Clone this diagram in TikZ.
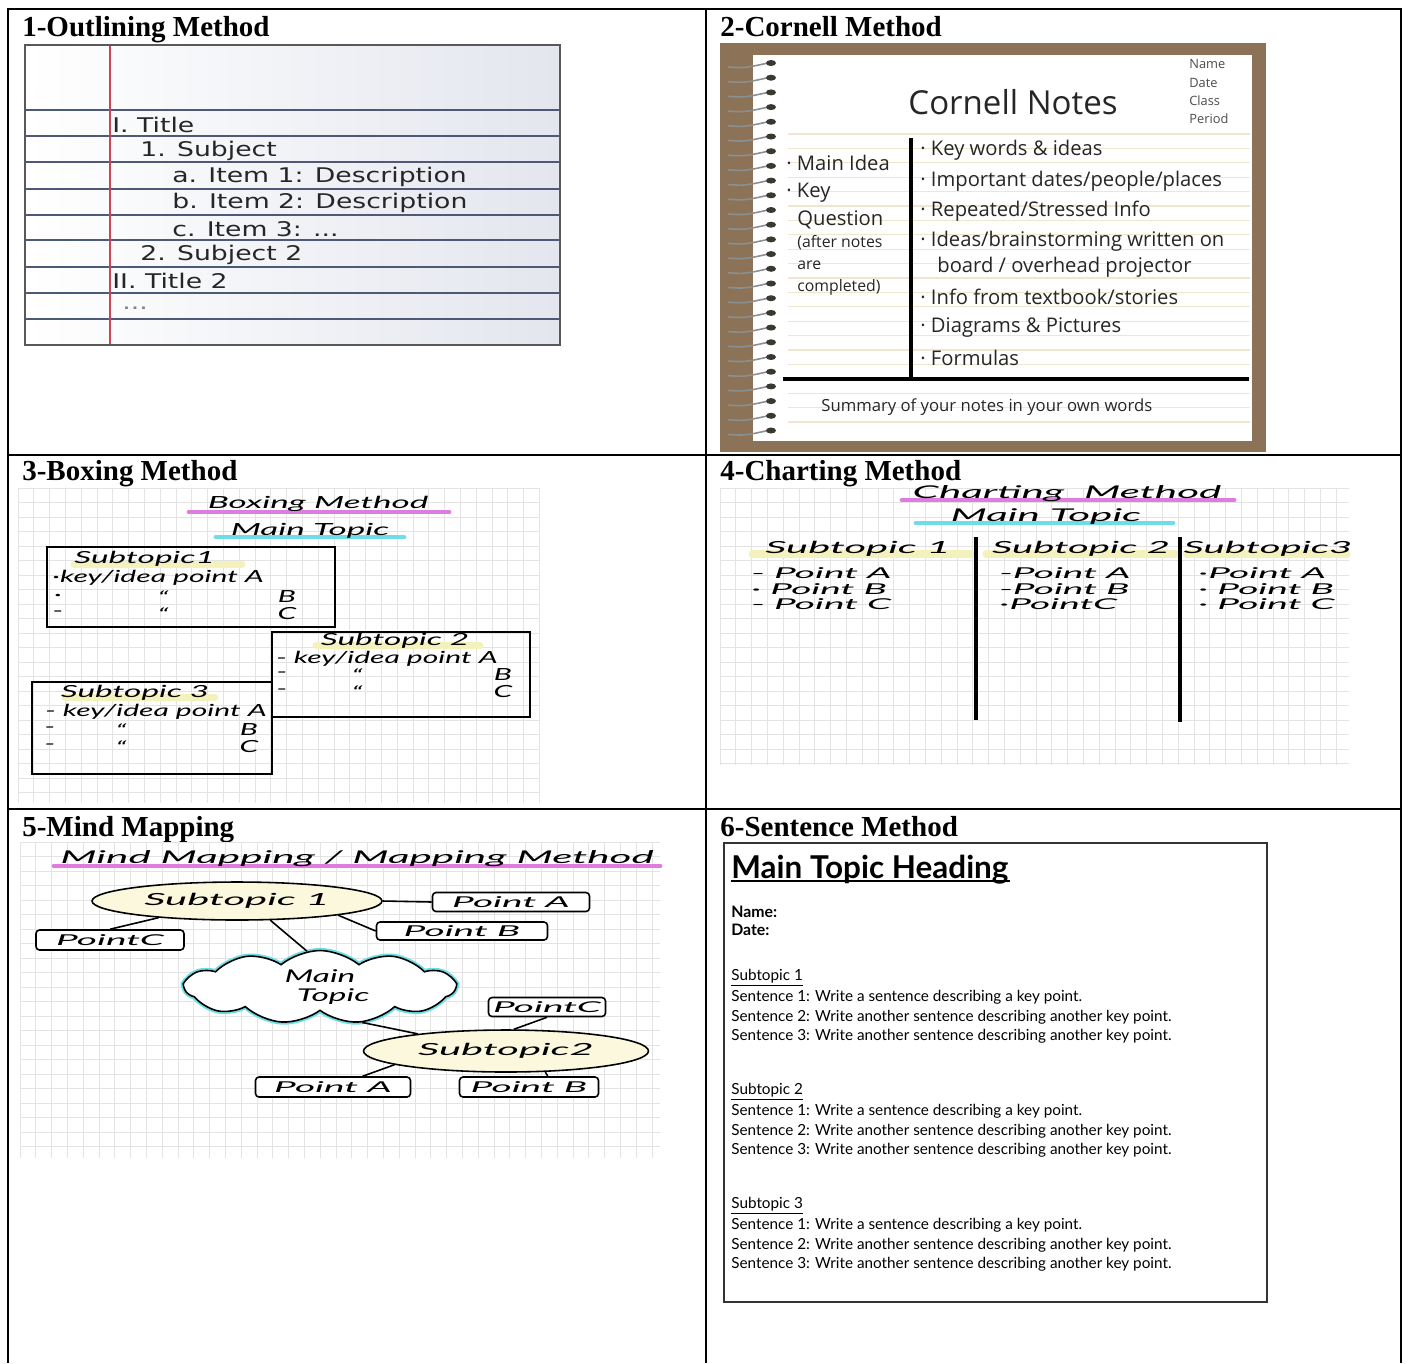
\documentclass[tikz,border=0pt]{standalone}
\usepackage{fontspec}
\setmainfont{Liberation Serif}
\newfontfamily\outlinefont{DejaVu Sans}
\newfontfamily\cornellfont{Open Sans}
\newfontfamily\handfont{Lato}
\usetikzlibrary{shapes.geometric,shapes.symbols}

\definecolor{ruleblue}{HTML}{4C5A78}
\definecolor{marginred}{HTML}{CC4455}
\definecolor{paperblue}{HTML}{E3E6EE}
\definecolor{framebrown}{HTML}{8C7357}
\definecolor{beigeline}{HTML}{EEE6CF}
\definecolor{coilgray}{HTML}{8A8F90}
\definecolor{ringdot}{HTML}{3A3830}
\definecolor{markpink}{HTML}{E07BE0}
\definecolor{markcyan}{HTML}{6EDDE6}
\definecolor{markyellow}{HTML}{F5F1BC}
\definecolor{bubbleyellow}{HTML}{FBF8DE}

\newcommand{\handw}[2][1.8]{\scalebox{#1}[1]{#2}}
\newcommand{\outl}[1]{\scalebox{1.32}[1]{#1}}

\tikzset{
  cellrule/.style={line width=1.2pt},
  cellhead/.style={anchor=base west, inner sep=0pt, font=\bfseries\fontsize{16.5}{18}\selectfont},
  ruleline/.style={ruleblue, line width=0.8pt},
  outltext/.style={anchor=west, inner sep=0pt, text=black!85, font=\outlinefont\fontsize{11.5}{13}\selectfont},
  cornell/.style={anchor=west, inner sep=0pt, text=black!85, font=\cornellfont\fontsize{11.5}{13}\selectfont},
  cornellsmall/.style={cornell, font=\cornellfont\fontsize{9}{10}\selectfont},
  cornelltiny/.style={cornell, text=black!70, font=\cornellfont\fontsize{7.3}{8}\selectfont},
  thickrule/.style={line width=1.8pt},
  gridline/.style={black!11, line width=0.4pt},
  marker/.style={line width=2.8pt, line cap=round},
  hand/.style={inner sep=0pt, font=\handfont\itshape\fontsize{9.5}{11}\selectfont},
  handsmall/.style={hand, font=\handfont\itshape\fontsize{8.5}{10}\selectfont},
  handbig/.style={hand, font=\handfont\itshape\fontsize{10}{12}\selectfont},
  boxline/.style={line width=1.3pt},
  bubble/.style={ellipse, draw, fill=bubbleyellow, line width=0.9pt, hand},
  pointbox/.style={rectangle, draw, rounded corners=2pt, line width=0.9pt, fill=white, handsmall},
  cloudnode/.style={cloud, cloud puffs=11, cloud puff arc=80, aspect=4.5, draw, fill=white,
    line width=0.9pt, preaction={draw=markcyan, line width=3pt}, handbig, align=center},
  link/.style={line width=0.9pt},
  sentence/.style={anchor=west, inner sep=0pt, font=\handfont\fontsize{8.7}{10}\selectfont},
}

\begin{document}
\begin{tikzpicture}[x=0.02cm, y=-0.02cm]
\useasboundingbox (0,0) rectangle (1408,1363);

% table
\draw[cellrule] (8,1363) -- (8,9) -- (1401,9) -- (1401,1363);
\draw[cellrule] (706,9) -- (706,1363);
\draw[cellrule] (8,455) -- (1401,455);
\draw[cellrule] (8,809) -- (1401,809);

\node[cellhead] (t1) at (22,36) {1-Outlining Method};
\node[cellhead] (t2) at (720,36) {2-Cornell Method};
\node[cellhead] (t3) at (22,480) {3-Boxing Method};
\node[cellhead] (t4) at (720,480) {4-Charting Method};
\node[cellhead] (t5) at (22,836) {5-Mind Mapping};
\node[cellhead] (t6) at (720,836) {6-Sentence Method};

% 1 outlining
\shade[left color=white, right color=paperblue] (25,45) rectangle (560,345);
\foreach \y in {110,136,162,189,215,240,267,293,319}
  \draw[ruleline] (25,\y) -- (560,\y);
\draw[marginred, line width=0.6pt] (110,45) -- (110,345);
\draw[black!65, line width=0.9pt] (25,45) rectangle (560,345);
\node[outltext] (o1) at (112,125) {\outl{I. Title}};
\node[outltext] (o2) at (140,151) {\outl{1. Subject}};
\node[outltext] (o3) at (172,177) {\outl{a. Item 1: Description}};
\node[outltext] (o4) at (172,203) {\outl{b. Item 2: Description}};
\node[outltext] (o5) at (172,229) {\outl{c. Item 3: ...}};
\node[outltext] (o6) at (140,255) {\outl{2. Subject 2}};
\node[outltext] (o7) at (112,281) {\outl{II. Title 2}};
\node[outltext, text=black!50] (o8) at (122,308) {\outl{...}};

% 2 cornell
\fill[framebrown] (720,43) rectangle (1266,452);
\fill[white] (753,55) rectangle (1252,441);
\foreach \y in {134,148.4,...,424}
  \draw[beigeline, line width=0.7pt] (788,\y) -- (1250,\y);
\foreach \i [evaluate=\i as \y using 63+14.7*\i] in {0,...,25} {
  \draw[coilgray, line width=0.9pt] (728,\y+4) .. controls (745,\y+5) .. (768,\y);
  \fill[ringdot] (771,\y) ellipse [x radius=5, y radius=3];
}
\draw[thickrule] (911,138) -- (911,379);
\draw[thickrule, line width=2pt] (783,379) -- (1249,379);
\node[cornell, anchor=center, font=\cornellfont\fontsize{18.8}{20}\selectfont] (cntitle) at (1013,102) {Cornell Notes};
\node[cornelltiny] (cname) at (1189,64) {Name};
\node[cornelltiny] (cdate) at (1189,83) {Date};
\node[cornelltiny] (cclass) at (1189,101) {Class};
\node[cornelltiny] (cperiod) at (1189,119) {Period};
\node[cornell] (cmain) at (786,163) {· Main Idea};
\node[cornell] (ckey) at (786,193) {· Key};
\node[cornell] (cquest) at (797,220) {Question};
\node[cornellsmall] (cafter) at (797,243) {(after notes};
\node[cornellsmall] (care) at (797,265) {are};
\node[cornellsmall] (ccompl) at (797,287) {completed)};
\node[cornell] (r1) at (920,150) {· Key words \& ideas};
\node[cornell] (r2) at (920,181) {· Important dates/people/places};
\node[cornell] (r3) at (920,211) {· Repeated/Stressed Info};
\node[cornell] (r4) at (920,241) {· Ideas/brainstorming written on};
\node[cornell] (r5) at (937,267) {board / overhead projector};
\node[cornell] (r6) at (920,297) {· Info from textbook/stories};
\node[cornell] (r7) at (920,328) {· Diagrams \& Pictures};
\node[cornell] (r8) at (920,358) {· Formulas};
\node[cornell, font=\cornellfont\fontsize{9.5}{11}\selectfont] (csum) at (821,407) {Summary of your notes in your own words};

% 3 boxing
\foreach \x in {18,33.8,...,540}
  \draw[gridline] (\x,488) -- (\x,803);
\foreach \y in {488,502.5,...,804}
  \draw[gridline] (18,\y) -- (539,\y);
\draw[marker, markpink] (189,512) -- (449,512);
\node[hand] (bxtitle) at (318,504) {\handw[2.1]{Boxing Method}};
\draw[marker, markcyan] (216,537) -- (404,537);
\node[hand] (bxmain) at (310,531) {\handw[2.1]{Main Topic}};
\draw[boxline] (47,547) rectangle (335,627);
\draw[boxline] (272,632) rectangle (530,717);
\draw[boxline] (32,682) rectangle (272,774);
\draw[marker, markyellow, line width=4pt] (74,564) -- (242,564);
\node[hand, anchor=west] (b1h) at (74,559) {\handw[2.0]{Subtopic1}};
\node[hand, anchor=west] (b1a) at (52,578) {\handw{·key/idea point A}};
\node[hand] (b1bd) at (58,597) {\handw{·}};
\node[hand] (b1bq) at (163,597) {\handw{“}};
\node[hand] (b1b) at (287,597) {\handw{B}};
\node[hand] (b1cd) at (58,614) {\handw{-}};
\node[hand] (b1cq) at (163,614) {\handw{“}};
\node[hand] (b1c) at (287,614) {\handw{C}};
\draw[marker, markyellow, line width=4pt] (316,645) -- (480,645);
\node[hand] (b2h) at (395,641) {\handw[2.0]{Subtopic 2}};
\node[hand, anchor=west] (b2a) at (276,659) {\handw{- key/idea point A}};
\node[hand] (b2bd) at (282,675) {\handw{-}};
\node[hand] (b2bq) at (357,675) {\handw{“}};
\node[hand] (b2b) at (503,675) {\handw{B}};
\node[hand] (b2cd) at (282,692) {\handw{-}};
\node[hand] (b2cq) at (357,692) {\handw{“}};
\node[hand] (b2c) at (503,692) {\handw{C}};
\draw[marker, markyellow, line width=4pt] (65,697) -- (215,697);
\node[hand] (b3h) at (135,693) {\handw[2.0]{Subtopic 3}};
\node[hand, anchor=west] (b3a) at (45,712) {\handw{- key/idea point A}};
\node[hand] (b3bd) at (50,730) {\handw{-}};
\node[hand] (b3bq) at (121,730) {\handw{“}};
\node[hand] (b3b) at (249,730) {\handw{B}};
\node[hand] (b3cd) at (50,747) {\handw{-}};
\node[hand] (b3cq) at (121,747) {\handw{“}};
\node[hand] (b3c) at (249,747) {\handw{C}};

% 4 charting
\foreach \x in {720,735.8,...,1350}
  \draw[gridline] (\x,488) -- (\x,765);
\foreach \y in {488,502.5,...,766}
  \draw[gridline] (720,\y) -- (1349,\y);
\draw[marker, markpink] (902,500) -- (1234,500);
\node[handbig] (chtitle) at (1067,494) {\handw[2.4]{Charting\ \ Method}};
\draw[marker, markcyan] (916,523) -- (1173,523);
\node[handbig] (chmain) at (1046,517) {\handw[2.4]{Main Topic}};
\draw[marker, markyellow, line width=4pt] (752,554) -- (972,554);
\draw[marker, markyellow, line width=4pt] (986,554) -- (1176,554);
\draw[marker, markyellow, line width=4pt] (1186,554) -- (1347,554);
\node[hand] (ch1) at (858,549) {\handw[2.5]{Subtopic 1}};
\node[hand] (ch2) at (1081,549) {\handw[2.4]{Subtopic 2}};
\node[hand] (ch3) at (1268,549) {\handw[2.4]{Subtopic3}};
\draw[thickrule] (976,537) -- (976,720);
\draw[thickrule] (1180,537) -- (1180,722);
\node[handsmall, anchor=west] (c1a) at (751,573) {\handw[2.6]{- Point A}};
\node[handsmall, anchor=west] (c1b) at (751,589) {\handw[2.6]{· Point B}};
\node[handsmall, anchor=west] (c1c) at (751,604) {\handw[2.6]{- Point C}};
\node[handsmall, anchor=west] (c2a) at (999,573) {\handw[2.6]{-Point A}};
\node[handsmall, anchor=west] (c2b) at (999,589) {\handw[2.6]{-Point B}};
\node[handsmall, anchor=west] (c2c) at (999,604) {\handw[2.6]{·PointC}};
\node[handsmall, anchor=west] (c3a) at (1198,573) {\handw[2.6]{·Point A}};
\node[handsmall, anchor=west] (c3b) at (1198,589) {\handw[2.6]{· Point B}};
\node[handsmall, anchor=west] (c3c) at (1198,604) {\handw[2.6]{· Point C}};

% 5 mind map
\foreach \x in {20,35.8,...,661}
  \draw[gridline] (\x,842) -- (\x,1158);
\foreach \y in {842,856.5,...,1159}
  \draw[gridline] (20,\y) -- (660,\y);
\draw[marker, markpink] (54,866) -- (660,866);
\node[handbig] (mmtitle) at (357,859) {\handw[2.4]{Mind Mapping / Mapping Method}};
\node[bubble, minimum width=5.8cm, minimum height=0.76cm] (sub1) at (237,901) {\handw[2.5]{Subtopic 1}};
\node[pointbox, minimum width=3.14cm, minimum height=0.38cm] (pa1) at (511,902) {\handw[2.6]{Point A}};
\node[pointbox, minimum width=3.42cm, minimum height=0.36cm] (pb1) at (462,931) {\handw[2.6]{Point B}};
\node[pointbox, minimum width=2.96cm, minimum height=0.4cm] (pc1) at (110,940) {\handw[2.6]{PointC}};
\node[cloudnode, minimum width=5.4cm, minimum height=1.46cm] (maintopic) at (320,987)
  {\handw[1.9]{Main}\\[-1pt]\hspace*{1.5em}\handw[1.9]{Topic}};
\node[bubble, minimum width=5.7cm, minimum height=0.84cm] (sub2) at (506,1051) {\handw[2.5]{Subtopic2}};
\node[pointbox, minimum width=2.34cm, minimum height=0.38cm] (pc2) at (547,1007) {\handw[2.6]{PointC}};
\node[pointbox, minimum width=3.1cm, minimum height=0.4cm] (pa2) at (333,1087) {\handw[2.6]{Point A}};
\node[pointbox, minimum width=2.78cm, minimum height=0.4cm] (pb2) at (529,1087) {\handw[2.6]{Point B}};
\draw[link] (sub1.east) -- (pa1.west);
\draw[link] (sub1.-8) -- (pb1.west);
\draw[link] (sub1.-168) -- (pc1.north);
\draw[link] (sub1.-30) -- (maintopic.110);
\draw[link] (maintopic.-40) -- (sub2.169);
\draw[link] (sub2.70) -- (pc2.south);
\draw[link] (sub2.-173) -- (pa2.20);
\draw[link] (sub2.-28) -- (pb2.30);

% 6 sentence
\draw[black!80, line width=1.4pt] (724,843) rectangle (1267,1302);
\node[anchor=base west, inner sep=0pt, font=\handfont\bfseries\fontsize{17.9}{20}\selectfont] (sthead) at (731,878) {Main Topic Heading};
\draw[line width=1pt] (731,881) -- (1010,881);
\node[sentence, font=\handfont\bfseries\fontsize{9}{10}\selectfont] (sname) at (731,912) {Name:};
\node[sentence, font=\handfont\bfseries\fontsize{9}{10}\selectfont] (sdate) at (731,930) {Date:};
\foreach \s/\yy in {1/978,2/1092,3/1206} {
  \node[sentence] (sub\s) at (731,\yy) {\underline{Subtopic \s}};
  \node[sentence] (sen\s-1) at (731,\yy+19) {Sentence 1: Write a sentence describing a key point.};
  \node[sentence] (sen\s-2) at (731,\yy+39) {Sentence 2: Write another sentence describing another key point.};
  \node[sentence] (sen\s-3) at (731,\yy+58) {Sentence 3: Write another sentence describing another key point.};
}
\end{tikzpicture}
\end{document}
